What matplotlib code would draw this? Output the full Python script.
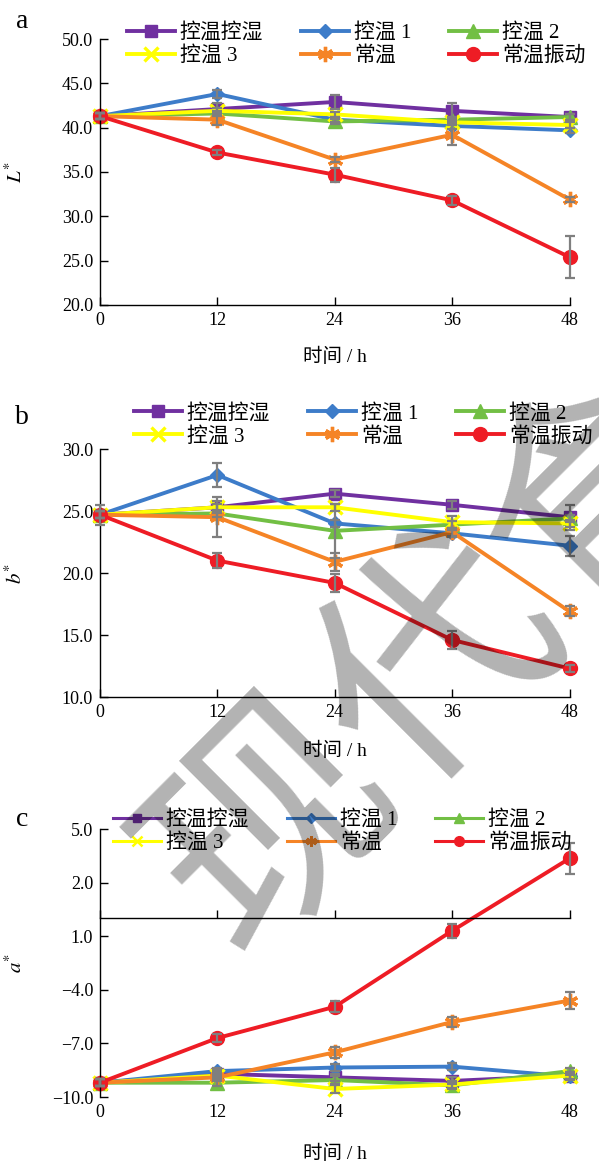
import matplotlib
matplotlib.use("Agg")
import matplotlib.pyplot as plt
from matplotlib.lines import Line2D
from matplotlib.ticker import FormatStrFormatter

plt.rcParams["font.family"] = ["Liberation Serif", "Noto Sans CJK SC"]
plt.rcParams["mathtext.fontset"] = "stix"

hours = [0, 12, 24, 36, 48]
groups = ["控温控湿", "控温 1", "控温 2", "控温 3", "常温", "常温振动"]

# L* values and standard deviations, one row per group
L_vals = [
    [41.3, 42.1, 42.9, 41.9, 41.2],
    [41.3, 43.8, 40.9, 40.2, 39.7],
    [41.3, 41.6, 40.7, 40.9, 41.2],
    [41.3, 41.9, 41.5, 40.6, 40.3],
    [41.3, 40.9, 36.4, 39.2, 31.9],
    [41.3, 37.2, 34.7, 31.8, 25.4],
]
L_err = [
    [0.3, 0.7, 0.8, 0.9, 0.3],
    [0.3, 0.4, 0.3, 0.3, 0.3],
    [0.3, 0.3, 0.3, 0.3, 0.3],
    [0.3, 0.3, 0.3, 0.3, 0.3],
    [0.3, 0.6, 0.3, 1.2, 0.3],
    [0.3, 0.3, 0.8, 0.5, 2.4],
]

# b* values
b_vals = [
    [24.7, 25.3, 26.4, 25.5, 24.5],
    [24.7, 27.9, 24.0, 23.2, 22.2],
    [24.7, 24.8, 23.4, 23.9, 24.4],
    [24.7, 25.3, 25.3, 24.1, 24.0],
    [24.7, 24.5, 20.9, 23.3, 16.9],
    [24.7, 21.0, 19.2, 14.6, 12.3],
]
b_err = [
    [0.3, 0.5, 0.3, 0.3, 1.0],
    [0.3, 1.0, 0.3, 0.3, 0.8],
    [0.3, 0.3, 2.2, 0.3, 0.3],
    [0.3, 0.3, 0.3, 0.5, 0.3],
    [0.3, 1.6, 0.7, 0.3, 0.4],
    [0.8, 0.6, 0.7, 0.7, 0.3],
]

# a* values
a_vals = [
    [-9.2, -8.7, -8.9, -9.1, -8.8],
    [-9.2, -8.55, -8.35, -8.3, -8.85],
    [-9.2, -9.2, -9.05, -9.35, -8.55],
    [-9.2, -8.8, -9.55, -9.3, -8.8],
    [-9.2, -8.9, -7.5, -5.8, -4.6],
    [-9.2, -6.7, -4.95, -0.7, 3.35],
]
a_err = [
    [0.2, 0.2, 0.2, 0.2, 0.2],
    [0.2, 0.2, 0.2, 0.2, 0.2],
    [0.2, 0.2, 0.2, 0.2, 0.2],
    [0.2, 0.2, 0.2, 0.2, 0.2],
    [0.2, 0.2, 0.3, 0.3, 0.5],
    [0.2, 0.2, 0.3, 0.4, 0.85],
]

a_ticks = [-10, -7, -4, -1, 2, 5]
a_ticklabels = ["\u221210.0", "\u22127.0", "\u22124.0", "1.0", "2.0", "5.0"]

colors = ["#7030a0", "#3d7cc9", "#72bf44", "#ffff00", "#f58426", "#ee1c25"]
markers = ["s", "D", "^", "x", (6, 2, 0), "o"]
msizes = [8.5, 7.5, 9.5, 10, 11, 10]

# legend fills column by column, so interleave to get rows of three
legend_order = [0, 3, 1, 4, 2, 5]

fig = plt.figure(figsize=(5.99, 11.67), dpi=100)
H = 1167.0
W = 599.0


def make_axes(top_px, bottom_px):
    left = 100 / W
    width = 469.5 / W
    return fig.add_axes([left, 1 - bottom_px / H, width, (bottom_px - top_px) / H])


def draw_series(ax, vals, errs):
    lines = []
    for i in range(len(groups)):
        (ln,) = ax.plot(hours, vals[i], color=colors[i], lw=2.8, marker=markers[i],
                        ms=msizes[i], mew=2.4 if i in (3, 4) else 1.0,
                        mec=colors[i], label=groups[i], clip_on=False,
                        zorder=2 + i * 0.01)
        lines.append(ln)
    for i in range(len(groups)):
        ax.errorbar(hours, vals[i], yerr=errs[i], fmt="none", ecolor="#7f7f7f",
                    elinewidth=1.6, capsize=3.5, capthick=1.6, clip_on=False, zorder=3)
    return lines


def style_axes(ax):
    for side in ("top", "right"):
        ax.spines[side].set_visible(False)
    for side in ("left", "bottom"):
        ax.spines[side].set_linewidth(1.0)
    ax.set_xlim(0, 48)
    ax.set_xticks(hours)
    ax.tick_params(direction="in", length=6, width=1, labelsize=13, pad=5)


legend_kw = dict(loc="center", ncol=3, frameon=False, fontsize=15, handlelength=2.3,
                 handletextpad=0.25, columnspacing=1.8, labelspacing=0.15, borderpad=0,
                 bbox_transform=fig.transFigure)


def add_legend(ax, handles, center_px):
    hs = [handles[k] for k in legend_order]
    labels = [groups[k] for k in legend_order]
    ax.legend(hs, labels, bbox_to_anchor=(center_px[0] / W, 1 - center_px[1] / H),
              **legend_kw)


# panel a: L*
ax1 = make_axes(39, 305)
lines1 = draw_series(ax1, L_vals, L_err)
style_axes(ax1)
ax1.set_ylim(20, 50)
ax1.set_yticks([20, 25, 30, 35, 40, 45, 50])
ax1.yaxis.set_major_formatter(FormatStrFormatter("%.1f"))
ax1.set_ylabel(r"$L^{*}$", fontsize=15)
ax1.yaxis.set_label_coords(-0.155, 0.5)
ax1.set_xlabel("时间 / h", fontsize=14)
ax1.xaxis.set_label_coords(0.5, -0.16)
add_legend(ax1, lines1, (356, 44.5))

# panel b: b*
ax2 = make_axes(449, 697)
lines2 = draw_series(ax2, b_vals, b_err)
style_axes(ax2)
ax2.set_ylim(10, 30)
ax2.set_yticks([10, 15, 20, 25, 30])
ax2.yaxis.set_major_formatter(FormatStrFormatter("%.1f"))
ax2.set_ylabel(r"$b^{*}$", fontsize=15)
ax2.yaxis.set_label_coords(-0.155, 0.5)
ax2.set_xlabel("时间 / h", fontsize=14)
ax2.xaxis.set_label_coords(0.5, -0.18)
add_legend(ax2, lines2, (363, 425))

# panel c: a*, horizontal axis crosses at zero, tick labels kept at the bottom
ax3 = make_axes(829, 1097)
draw_series(ax3, a_vals, a_err)
style_axes(ax3)
ax3.set_ylim(-10, 5)
ax3.set_yticks(a_ticks, labels=a_ticklabels)
ax3.spines["bottom"].set_position(("data", 0))
ax3.tick_params(axis="x", labelbottom=False)
for h in hours:
    ax3.text(h, -0.027, str(h), transform=ax3.get_xaxis_transform(),
             ha="center", va="top", fontsize=13)
ax3.set_ylabel(r"$a^{*}$", fontsize=15)
ax3.yaxis.set_label_coords(-0.155, 0.5)
ax3.set_xlabel("时间 / h", fontsize=14)
ax3.xaxis.set_label_coords(0.5, -0.18)
c_handles = [
    Line2D([], [], color=colors[i], lw=2.2, marker=markers[i], ms=msizes[i] * 0.7,
           mew=1.8 if i in (3, 4) else 1.0, mec=colors[i])
    for i in range(len(groups))
]
add_legend(ax3, c_handles, (342, 831.5))

for label, ypx in (("a", 22), ("b", 417), ("c", 820)):
    fig.text(22 / W, 1 - ypx / H, label, fontsize=20, ha="center", va="center")

# publisher watermark across the lower panels
fig.text(440 / W, 1 - 660 / H, "现代食", fontsize=170, rotation=45,
         rotation_mode="anchor", ha="center", va="center", color="black", alpha=0.3,
         family="Noto Sans CJK SC", zorder=10)

fig.savefig("out.png", dpi=100)
